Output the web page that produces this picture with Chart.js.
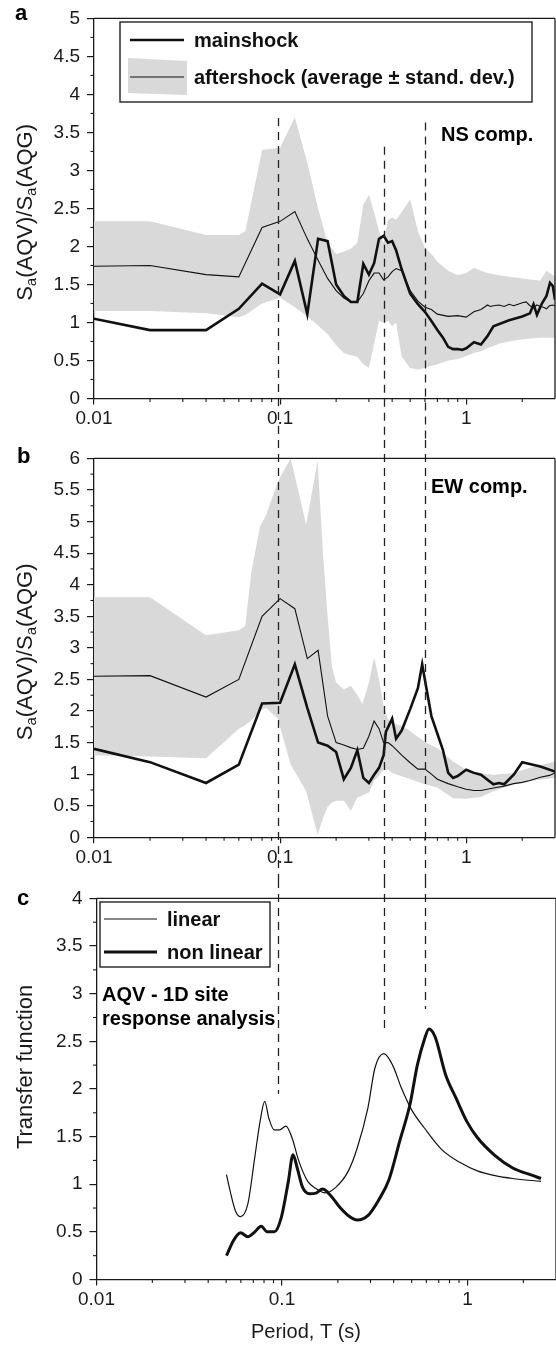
<!DOCTYPE html>
<html><head><meta charset="utf-8">
<script src="https://cdn.jsdelivr.net/npm/chart.js@4.4.1/dist/chart.umd.min.js"></script>
<style>
html,body{margin:0;padding:0;background:#fff;}
#wrap{position:relative;width:556px;height:1348px;overflow:hidden;background:#fff;}
canvas{position:absolute;left:0;}
</style></head><body>
<div id="wrap">
<canvas id="ca" width="556" height="440" style="top:0px"></canvas>
<canvas id="cb" width="556" height="440" style="top:440px"></canvas>
<canvas id="cc" width="556" height="468" style="top:880px"></canvas>
</div>
<script>
// ---------- axis ticks ----------
const periodTicks = [0.01, 0.1, 1];
const periodTickLabels = ['0.01', '0.1', '1'];
const periodMinorTicks = [0.02,0.03,0.04,0.05,0.06,0.07,0.08,0.09,0.2,0.3,0.4,0.5,0.6,0.7,0.8,0.9,2,3];
const dashedPeriods = [0.098, 0.36, 0.6];
const dashedStartA = [3.69, 3.31, 3.63];
const dashedEndC = [1.95, 2.58, 2.84];

// ---------- panel a (NS) ----------
const nsMainT = [0.01,0.02,0.04,0.06,0.08,0.10,0.12,0.14,0.16,0.18,0.20,0.22,0.24,0.26,0.28,0.30,0.32,0.34,0.36,0.38,0.40,0.42,0.45,0.50,0.55,0.60,0.65,0.70,0.75,0.80,0.85,0.90,0.95,1.00,1.05,1.10,1.20,1.30,1.40,1.70,2.00,2.20,2.30,2.40,2.55,2.70,2.82,2.92,3.00];
const nsMainV = [1.05,0.90,0.90,1.18,1.51,1.37,1.81,1.11,2.10,2.07,1.50,1.35,1.27,1.27,1.77,1.63,1.78,2.10,2.14,2.05,2.07,1.95,1.70,1.38,1.24,1.14,1.02,0.90,0.80,0.68,0.65,0.65,0.64,0.66,0.70,0.74,0.71,0.82,0.95,1.03,1.08,1.12,1.24,1.10,1.25,1.35,1.52,1.48,1.30];
const nsAftT = [0.01,0.02,0.04,0.06,0.08,0.10,0.12,0.14,0.16,0.18,0.20,0.22,0.24,0.26,0.28,0.30,0.32,0.34,0.36,0.38,0.40,0.42,0.45,0.50,0.55,0.60,0.65,0.70,0.80,0.90,1.00,1.10,1.20,1.25,1.30,1.35,1.40,1.50,1.60,1.70,1.80,1.90,2.00,2.10,2.20,2.30,2.40,2.50,2.60,2.70,2.80,2.90,3.00];
const nsAftV = [1.74,1.75,1.63,1.60,2.25,2.33,2.46,2.10,1.82,1.58,1.42,1.32,1.27,1.27,1.38,1.55,1.65,1.65,1.56,1.60,1.67,1.71,1.68,1.42,1.28,1.20,1.17,1.11,1.08,1.09,1.07,1.14,1.17,1.20,1.23,1.21,1.22,1.23,1.21,1.24,1.22,1.24,1.26,1.27,1.22,1.20,1.23,1.21,1.20,1.18,1.22,1.23,1.22];
const nsBandT = [0.01,0.02,0.04,0.06,0.065,0.08,0.10,0.12,0.14,0.16,0.18,0.20,0.22,0.24,0.26,0.28,0.30,0.32,0.34,0.36,0.38,0.40,0.42,0.45,0.50,0.55,0.60,0.65,0.70,0.80,0.90,1.00,1.10,1.20,1.30,1.50,1.70,2.00,2.50,2.70,3.00];
const nsBandUp = [2.33,2.33,2.15,2.15,2.20,3.27,3.30,3.70,3.10,2.50,2.05,1.90,1.93,1.97,2.05,2.55,2.68,2.45,2.20,2.05,2.35,2.38,2.35,2.45,2.62,2.20,1.98,1.90,1.80,1.68,1.62,1.65,1.72,1.68,1.65,1.62,1.60,1.58,1.55,1.68,1.60];
const nsBandLo = [1.15,1.15,1.12,1.07,1.10,1.25,1.33,1.20,1.08,0.96,0.85,0.70,0.60,0.57,0.55,0.45,0.40,0.72,1.02,1.00,1.02,0.95,1.00,0.55,0.40,0.38,0.40,0.43,0.45,0.50,0.52,0.56,0.60,0.62,0.66,0.72,0.75,0.78,0.80,0.80,0.80];

// ---------- panel b (EW) ----------
const ewMainT = [0.01,0.02,0.04,0.06,0.08,0.10,0.12,0.14,0.16,0.18,0.20,0.22,0.24,0.26,0.28,0.30,0.32,0.34,0.36,0.37,0.38,0.40,0.42,0.45,0.50,0.55,0.58,0.60,0.65,0.70,0.75,0.80,0.85,0.90,1.00,1.10,1.20,1.40,1.50,1.60,1.80,2.00,2.50,3.00];
const ewMainV = [1.40,1.19,0.86,1.15,2.12,2.13,2.74,2.05,1.50,1.45,1.35,0.92,1.10,1.38,0.94,0.86,0.99,1.10,1.30,1.67,1.74,1.88,1.56,1.69,2.03,2.36,2.74,2.49,1.92,1.64,1.38,1.02,0.94,0.97,1.07,1.02,0.99,0.84,0.86,0.84,0.99,1.19,1.12,1.04];
const ewAftT = [0.01,0.02,0.04,0.06,0.08,0.10,0.12,0.14,0.16,0.18,0.20,0.22,0.24,0.26,0.28,0.30,0.32,0.34,0.36,0.38,0.40,0.45,0.50,0.55,0.60,0.65,0.70,0.80,0.90,1.00,1.10,1.20,1.40,1.60,1.80,2.00,2.20,2.50,2.80,3.00];
const ewAftV = [2.55,2.56,2.22,2.50,3.50,3.78,3.62,2.83,2.96,1.92,1.50,1.46,1.42,1.39,1.41,1.60,1.84,1.72,1.50,1.50,1.45,1.30,1.18,1.08,1.08,1.00,0.92,0.85,0.80,0.76,0.74,0.74,0.78,0.81,0.85,0.87,0.90,0.95,0.98,1.02];
const ewBandT = [0.01,0.02,0.04,0.06,0.065,0.07,0.078,0.084,0.097,0.114,0.125,0.138,0.159,0.17,0.18,0.19,0.20,0.22,0.24,0.26,0.277,0.30,0.32,0.34,0.36,0.38,0.40,0.48,0.60,0.70,0.85,1.00,1.20,1.40,1.80,2.20,3.00];
const ewBandUp = [3.80,3.80,3.20,3.28,3.35,4.20,4.92,5.10,5.63,6.00,5.50,4.95,5.96,4.50,3.50,2.70,2.45,2.34,2.40,2.25,2.11,2.45,2.85,2.50,2.08,1.87,1.82,1.72,1.51,1.41,1.20,1.07,1.02,0.99,1.02,1.10,1.20];
const ewBandLo = [1.30,1.28,1.25,1.72,1.78,1.85,2.00,2.05,1.88,1.15,0.95,0.73,0.04,0.30,0.48,0.55,0.58,0.58,0.42,0.63,0.66,0.71,0.89,0.98,1.07,1.07,1.02,0.94,0.84,0.79,0.62,0.61,0.64,0.73,0.84,0.89,0.94];

// ---------- panel c (transfer function) ----------
const linT = [0.0502,0.0525,0.0561,0.0598,0.0654,0.0713,0.0762,0.0807,0.0850,0.0908,0.0970,0.1050,0.1131,0.1234,0.1377,0.1537,0.171,0.1956,0.228,0.2544,0.2903,0.317,0.354,0.3947,0.4403,0.50,0.5856,0.7293,0.908,1.13,1.408,1.753,2.49];
const linV = [1.10,0.93,0.72,0.66,0.79,1.28,1.66,1.87,1.69,1.57,1.57,1.61,1.49,1.24,1.03,0.95,0.91,0.97,1.14,1.38,1.80,2.22,2.37,2.25,2.01,1.78,1.59,1.36,1.23,1.14,1.09,1.06,1.03];
const nlT = [0.0502,0.0548,0.0598,0.0654,0.0713,0.0772,0.0832,0.0908,0.0991,0.1082,0.1146,0.1208,0.129,0.1408,0.1537,0.1655,0.1832,0.2044,0.228,0.2544,0.2903,0.331,0.3777,0.4308,0.4913,0.5365,0.5856,0.62,0.668,0.762,0.869,0.991,1.13,1.408,1.753,2.18,2.49];
const nlV = [0.25,0.41,0.49,0.45,0.50,0.56,0.50,0.50,0.65,1.03,1.31,1.17,0.97,0.90,0.91,0.95,0.88,0.76,0.67,0.625,0.67,0.83,1.05,1.45,1.85,2.25,2.52,2.63,2.55,2.15,1.90,1.66,1.49,1.30,1.17,1.10,1.06];

const FONT = '"Liberation Sans", Arial, Helvetica, sans-serif';
const INK = '#1a1a1a';
const BAND = '#d9d9d9';
Chart.defaults.font.family = FONT;
Chart.defaults.color = INK;

const pts = (T, V) => T.map((t, i) => ({ x: t, y: V[i] }));
let refXScale = null;

function line(ctx, x0, y0, x1, y1) { ctx.beginPath(); ctx.moveTo(x0, y0); ctx.lineTo(x1, y1); ctx.stroke(); }

function drawRich(ctx, text, cx, cy, rotate) {
  // text with "_x" subscripts
  const parts = [];
  let i = 0, buf = '';
  while (i < text.length) {
    if (text[i] === '_') { if (buf) parts.push({ t: buf, sub: false }); buf = ''; parts.push({ t: text[i + 1], sub: true }); i += 2; }
    else { buf += text[i]; i++; }
  }
  if (buf) parts.push({ t: buf, sub: false });
  ctx.save();
  ctx.translate(cx, cy);
  if (rotate) ctx.rotate(-Math.PI / 2);
  let w = 0;
  parts.forEach(p => { ctx.font = (p.sub ? '15px ' : '22px ') + FONT; p.w = ctx.measureText(p.t).width; w += p.w; });
  let x0 = -w / 2;
  ctx.fillStyle = INK; ctx.textBaseline = 'alphabetic'; ctx.textAlign = 'left';
  parts.forEach(p => { ctx.font = (p.sub ? '15px ' : '22px ') + FONT; ctx.fillText(p.t, x0, p.sub ? 12 : 8); x0 += p.w; });
  ctx.restore();
}

const decorPlugin = {
  id: 'decor',
  afterDatasetsDraw(chart, args, o) {
    const { ctx, scales: { x, y } } = chart;
    ctx.save();
    ctx.strokeStyle = '#222'; ctx.lineWidth = 1.3; ctx.setLineDash([8, 6]);
    dashedPeriods.forEach((t, i) => {
      const sx = (o.useRef && refXScale) ? refXScale : x;
      const px = Math.round(sx.getPixelForValue(t)) + 0.5;
      const y0 = o.dashFrom ? y.getPixelForValue(o.dashFrom[i]) : 0;
      const y1 = o.dashTo ? y.getPixelForValue(o.dashTo[i]) : chart.height;
      line(ctx, px, y0, px, y1);
    });
    ctx.restore();
  },
  afterDraw(chart, args, o) {
    const { ctx, chartArea: a, scales: { x, y } } = chart;
    ctx.save();
    ctx.strokeStyle = INK; ctx.lineWidth = 1.3;
    // frame top/right
    line(ctx, a.left, a.top, a.right, a.top);
    line(ctx, a.right, a.top, a.right, a.bottom);
    // minor ticks
    ctx.lineWidth = 1.1;
    for (let v = 0.25; v < y.max; v += 0.5) { const py = y.getPixelForValue(v); line(ctx, a.left - 3.5, py, a.left, py); }
    periodMinorTicks.forEach(t => { const px = x.getPixelForValue(t); if (px < a.right - 1) line(ctx, px, a.bottom, px, a.bottom + 3.5); });
    // y title
    drawRich(ctx, o.yTitle, 24, (a.top + a.bottom) / 2 + (o.yTitleDy || 0), true);
    // x title
    if (o.xTitle) { ctx.font = '20px ' + FONT; ctx.fillStyle = INK; ctx.textAlign = 'center'; ctx.textBaseline = 'middle'; ctx.fillText(o.xTitle, o.xTitlePos[0], o.xTitlePos[1]); }
    // panel letter
    ctx.font = 'bold 22px ' + FONT; ctx.fillStyle = '#000'; ctx.textAlign = 'left'; ctx.textBaseline = 'alphabetic';
    ctx.fillText(o.letter, o.letterPos[0], o.letterPos[1]);
    // notes
    ctx.font = 'bold 20px ' + FONT; ctx.textBaseline = 'middle';
    (o.notes || []).forEach(n => ctx.fillText(n.text, n.x, n.y));
    // legend
    if (o.legend) {
      const L = o.legend;
      ctx.lineWidth = 1.3; ctx.strokeStyle = '#111';
      ctx.strokeRect(L.box[0], L.box[1], L.box[2] - L.box[0], L.box[3] - L.box[1]);
      L.items.forEach(it => {
        const ds = chart.data.datasets[it.ds];
        if (it.patch) {
          ctx.fillStyle = BAND; ctx.beginPath();
          ctx.moveTo(it.patch[0], it.patch[1]); ctx.lineTo(it.patch[2], it.patch[3]);
          ctx.lineTo(it.patch[4], it.patch[5]); ctx.lineTo(it.patch[6], it.patch[7]); ctx.closePath(); ctx.fill();
        }
        ctx.strokeStyle = ds.borderColor; ctx.lineWidth = ds.borderWidth;
        line(ctx, it.x0, it.y, it.x1, it.y);
        ctx.fillStyle = '#111'; ctx.font = 'bold 20px ' + FONT; ctx.textAlign = 'left'; ctx.textBaseline = 'middle';
        ctx.fillText(it.text || ds.label, it.tx, it.y + 1);
      });
    }
    ctx.restore();
  }
};

function makeChart(id, cfg) {
  return new Chart(document.getElementById(id), {
    type: 'line',
    data: { datasets: cfg.datasets },
    options: {
      responsive: false, animation: false, devicePixelRatio: 1, events: [], locale: 'en-US',
      layout: { padding: { top: cfg.top, right: 556 - cfg.right, left: 0, bottom: 0 } },
      elements: { point: { radius: 0 } },
      scales: {
        x: {
          type: 'logarithmic', min: 0.01, max: 3,
          afterBuildTicks: s => { s.ticks = periodTicks.map(v => ({ value: v })); },
          afterFit: s => { s.height = cfg.h - cfg.bottom; },
          ticks: { callback: v => { const i = periodTicks.indexOf(v); return i >= 0 ? periodTickLabels[i] : ''; },
                   padding: 3, maxRotation: 0, autoSkip: false, font: { size: 19 }, color: INK },
          grid: { drawOnChartArea: false, drawTicks: true, tickLength: 6, color: INK, lineWidth: 1.2 },
          border: { display: true, color: INK, width: 1.3 }
        },
        y: {
          min: 0, max: cfg.ymax,
          afterFit: s => { s.width = cfg.left; },
          ticks: { stepSize: 0.5, padding: 7, autoSkip: false, font: { size: 19 }, color: INK,
                   callback: v => String(Math.round(v * 100) / 100) },
          grid: { drawOnChartArea: false, drawTicks: true, tickLength: 7, color: INK, lineWidth: 1.2 },
          border: { display: true, color: INK, width: 1.3 }
        }
      },
      plugins: { legend: { display: false }, tooltip: { enabled: false }, decor: cfg.decor }
    },
    plugins: [decorPlugin]
  });
}

function spectraSets(mainT, mainV, aftT, aftV, bT, up, lo) {
  return [
    { label: 'mainshock', data: pts(mainT, mainV), borderColor: '#111', borderWidth: 2.6, fill: false, order: 0, tension: 0 },
    { label: 'aftershock (average \u00b1 stand. dev.)', data: pts(aftT, aftV), borderColor: '#111', borderWidth: 1.1, fill: false, order: 1, tension: 0 },
    { label: 'aftershock + stand. dev.', data: pts(bT, up), borderColor: BAND, borderWidth: 0, backgroundColor: BAND, fill: '+1', order: 2, tension: 0 },
    { label: 'aftershock - stand. dev.', data: pts(bT, lo), borderColor: BAND, borderWidth: 0, backgroundColor: BAND, fill: false, order: 3, tension: 0 }
  ];
}

const chartA = makeChart('ca', {
  h: 440, top: 14.5, bottom: 398.5, left: 94, right: 555, ymax: 5,
  datasets: spectraSets(nsMainT, nsMainV, nsAftT, nsAftV, nsBandT, nsBandUp, nsBandLo),
  decor: {
    yTitle: 'S_a(AQV)/S_a(AQG)', yTitleDy: 4, letter: 'a', letterPos: [15, 20],
    dashFrom: dashedStartA,
    notes: [{ text: 'NS comp.', x: 441, y: 135 }],
    legend: { box: [120, 22, 532, 102], items: [
      { ds: 0, x0: 130, x1: 184, y: 40, tx: 194 },
      { ds: 1, x0: 130, x1: 184, y: 77, tx: 194, patch: [128, 58, 187, 61, 187, 95, 128, 93] }
    ] }
  }
});
refXScale = chartA.scales.x;

makeChart('cb', {
  h: 440, top: 12.7, bottom: 397.3, left: 94, right: 555, ymax: 6,
  datasets: spectraSets(ewMainT, ewMainV, ewAftT, ewAftV, ewBandT, ewBandUp, ewBandLo),
  decor: {
    yTitle: 'S_a(AQV)/S_a(AQG)', yTitleDy: 4, letter: 'b', letterPos: [17, 23],
    useRef: true,
    notes: [{ text: 'EW comp.', x: 431, y: 47 }]
  }
});

makeChart('cc', {
  h: 468, top: 15.5, bottom: 399.5, left: 96.5, right: 556, ymax: 4,
  datasets: [
    { label: 'linear', data: pts(linT, linV), borderColor: '#111', borderWidth: 1.2, fill: false, cubicInterpolationMode: 'monotone', order: 1 },
    { label: 'non linear', data: pts(nlT, nlV), borderColor: '#111', borderWidth: 3, fill: false, cubicInterpolationMode: 'monotone', order: 0 }
  ],
  decor: {
    yTitle: 'Transfer function', yTitleDy: -22, letter: 'c', letterPos: [17, 25],
    useRef: true, dashTo: dashedEndC,
    xTitle: 'Period, T (s)', xTitlePos: [306, 452],
    notes: [{ text: 'AQV - 1D site', x: 102, y: 115 }, { text: 'response analysis', x: 102, y: 139 }],
    legend: { box: [100, 22, 270, 87], items: [
      { ds: 0, x0: 104, x1: 157, y: 39, tx: 167 },
      { ds: 1, x0: 104, x1: 157, y: 72, tx: 167 }
    ] }
  }
});
</script>
</body></html>
